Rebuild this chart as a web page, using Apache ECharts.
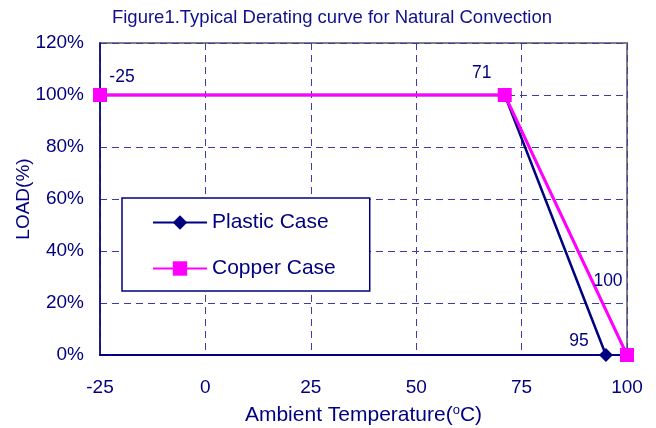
<!DOCTYPE html>
<html><head><meta charset="utf-8">
<script src="https://cdn.jsdelivr.net/npm/echarts@6/dist/echarts.min.js"></script>
<style>html,body{margin:0;padding:0;background:#fff}#c{width:656px;height:428px}</style>
</head><body><div id="c"></div>
<script>
const title = 'Figure1.Typical Derating curve for Natural Convection';
const xTicks = [-25, 0, 25, 50, 75, 100];
const plasticX = [-25, 71, 95];
const plasticY = [100, 100, 0];
const copperX = [-25, 71, 100];
const copperY = [100, 100, 0];
const plasticLabels = ['', '', '95'];
const copperLabels = ['-25', '71', '100'];

const navy = '#000080';
const font = 'Arial, "Liberation Sans", sans-serif';
const chart = echarts.init(document.getElementById('c'));

const copperOffsets = [[22, 3], [-23, -1], [-19, -53]];
const plasticOffsets = [null, null, [-27, 7]];

function mk(xs, ys, labels, offsets) {
  return xs.map((x, i) => {
    const d = {value: [x, ys[i]]};
    if (labels[i]) {
      d.label = {show: true, formatter: labels[i], position: 'top', offset: offsets[i],
        color: navy, fontSize: 17.5, fontFamily: font};
    }
    return d;
  });
}

chart.setOption({
  animation: false,
  title: {text: title, left: 327, textAlign: 'center', top: 3,
    textStyle: {color: '#10108a', fontSize: 18.5, fontWeight: 'normal', fontFamily: font}},
  grid: {left: 100, right: 29, top: 43, bottom: 73, show: true, outerBoundsMode: 'none', containLabel: false,
    borderColor: '#808080', borderWidth: 2, backgroundColor: 'transparent'},
  legend: {
    left: 122, top: 198, orient: 'vertical',
    padding: [14, 34, 12, 30], itemGap: 25,
    borderColor: navy, borderWidth: 1.5, backgroundColor: '#fff',
    itemWidth: 54, itemHeight: 18,
    textStyle: {color: navy, fontSize: 21, fontFamily: font},
    data: ['Plastic Case', 'Copper Case']
  },
  xAxis: {
    type: 'value', min: -25, max: 100, interval: 25,
    name: 'Ambient Temperature({s|o}C)', nameLocation: 'middle', nameGap: 49, nameMoveOverlap: false,
    nameTextStyle: {color: navy, fontSize: 21, fontFamily: font,
      rich: {s: {fontSize: 13, color: navy, fontFamily: font, verticalAlign: 'top', padding: [0, 0, 10, 0]}}},
    axisLine: {show: true, onZero: false, lineStyle: {color: navy, width: 2}},
    axisTick: {show: false},
    axisLabel: {color: navy, fontSize: 19, fontFamily: font, margin: 23,
      customValues: xTicks},
    splitLine: {show: true, lineStyle: {color: '#3c3ca8', type: [7, 5], width: 1}}
  },
  yAxis: {
    type: 'value', min: 0, max: 120, interval: 20,
    name: 'LOAD(%)', nameLocation: 'middle', nameGap: 67, nameMoveOverlap: false,
    nameTextStyle: {color: navy, fontSize: 19, fontFamily: font},
    axisLine: {show: true, onZero: false, lineStyle: {color: navy, width: 1.5}},
    axisTick: {show: false},
    axisLabel: {color: navy, fontSize: 19, fontFamily: font, margin: 16, formatter: '{value}%'},
    splitLine: {show: true, lineStyle: {color: '#3c3ca8', type: [7, 5], width: 1}}
  },
  series: [
    {name: 'Plastic Case', type: 'line', data: mk(plasticX, plasticY, plasticLabels, plasticOffsets),
      symbol: 'diamond', symbolSize: 14, showAllSymbol: true,
      lineStyle: {color: navy, width: 2.5}, itemStyle: {color: navy}, z: 2},
    {name: 'Copper Case', type: 'line', data: mk(copperX, copperY, copperLabels, copperOffsets),
      symbol: 'rect', symbolSize: 14, showAllSymbol: true,
      lineStyle: {color: '#ff00ff', width: 3}, itemStyle: {color: '#ff00ff'}, z: 3}
  ]
});
</script></body></html>
